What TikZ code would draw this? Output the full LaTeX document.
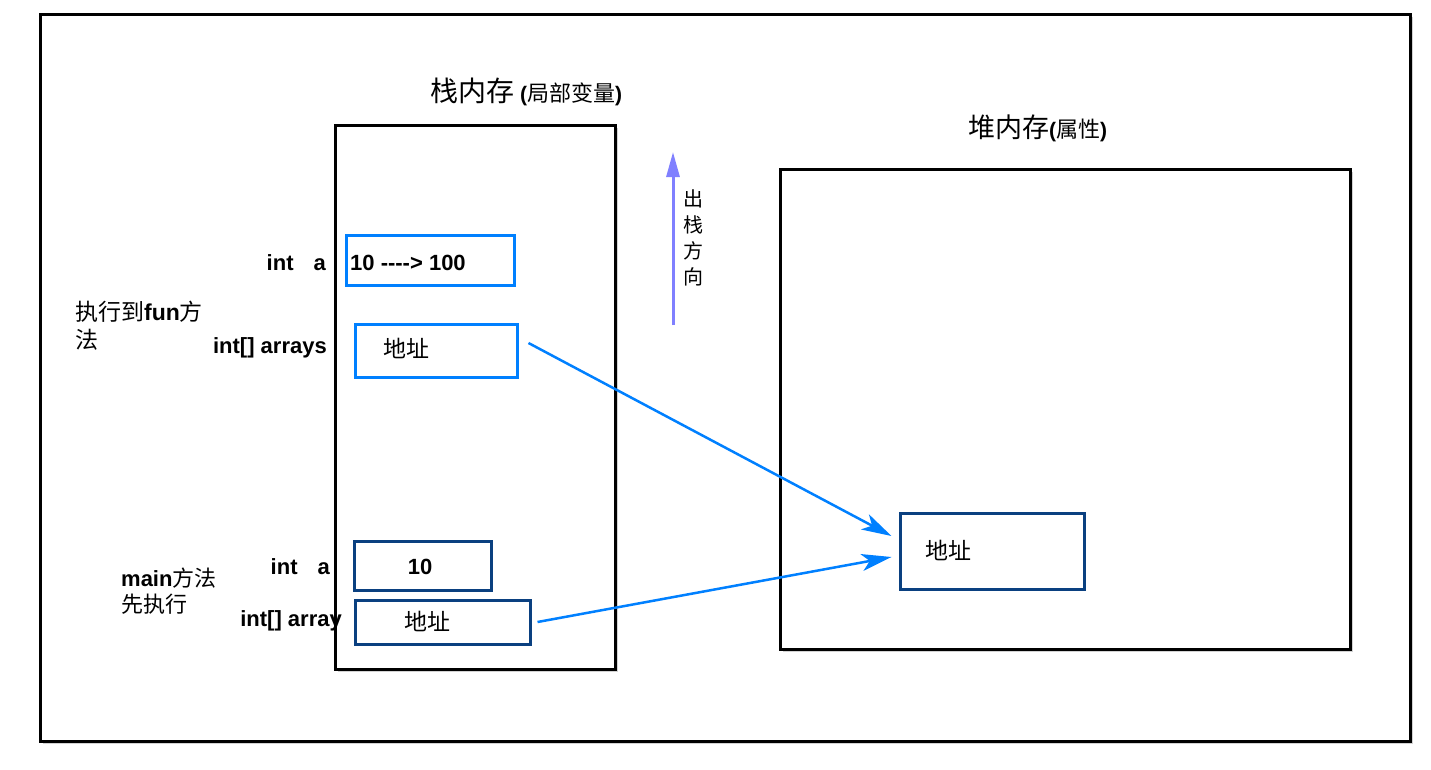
\documentclass[tikz,border=0pt]{standalone}
\usepackage{fontspec}
\setmainfont{Liberation Sans}
\newfontfamily\cjk{Noto Sans CJK SC}
\usetikzlibrary{shadows, arrows.meta}
\newcommand{\zh}[1]{{\cjk #1}}
\definecolor{slotlight}{RGB}{0,128,255}
\definecolor{slotdark}{RGB}{10,64,128}
\definecolor{popcol}{RGB}{128,128,255}

\begin{document}
\begin{tikzpicture}[x=1pt,y=-1pt]
\tikzset{
    memframe/.style={draw=black, fill=white, line width=3pt, inner sep=0pt,
        drop shadow={shadow xshift=3pt, shadow yshift=-3pt, opacity=0.35}},
    slot/.style={draw=#1, fill=white, line width=3pt, inner sep=0pt},
    lbl/.style={font=\bfseries\fontsize{22}{26}\selectfont, inner sep=0pt},
    zhtxt/.style={font=\fontsize{23}{28}\selectfont, inner sep=0pt, align=left},
    ptr/.style={draw=slotlight, line width=2.5pt, -{Stealth[length=30pt, width=17pt, inset=8pt]}}
}
  \useasboundingbox (0,0) rectangle (1431,769);
  \fill[white] (0,0) rectangle (1431,769);

  % frames
  \node[memframe, minimum width=1370, minimum height=727] (outer) at (725,377.5) {};
  \node[memframe, minimum width=280, minimum height=544] (stack) at (475,397) {};
  \node[memframe, minimum width=570, minimum height=480] (heap) at (1065,409) {};

  % titles
  \node[anchor=west, inner sep=0pt] (stacktitle) at (430,92)
    {\zh{\fontsize{28}{32}\selectfont 栈内存}\hspace{6pt}{\bfseries\fontsize{21}{24}\selectfont(}\zh{\fontsize{22}{26}\selectfont 局部变量}{\bfseries\fontsize{21}{24}\selectfont)}};
  \node[anchor=west, inner sep=0pt] (heaptitle) at (968,128)
    {\zh{\fontsize{27}{32}\selectfont 堆内存}{\bfseries\fontsize{21}{24}\selectfont(}\zh{\fontsize{22}{26}\selectfont 属性}{\bfseries\fontsize{21}{24}\selectfont)}};

  % fun frame
  \node[slot=slotlight, minimum width=168, minimum height=50] (funa) at (430,260) {};
  \node[lbl, anchor=west] (funaval) at (350,263) {10 -{}-{}-{}-{}> 100};
  \node[slot=slotlight, minimum width=162, minimum height=53] (funarr) at (436,350.5) {};
  \node[zhtxt, anchor=west] (funarrval) at (383,348) {\zh{地址}};
  \node[lbl, anchor=east] (funalbl) at (326,263) {int\hspace{20pt}a};
  \node[lbl, anchor=east] (funarrlbl) at (327,348) {int[] arrays};
  \node[zhtxt, anchor=west] (funnote) at (75,326) {\zh{执行到}{\bfseries fun}\zh{方}\\\zh{法}};

  % main frame
  \node[slot=slotdark, minimum width=137, minimum height=49] (maina) at (422.5,565.5) {};
  \node[lbl] (mainaval) at (420,567) {10};
  \node[slot=slotdark, minimum width=175, minimum height=44] (mainarr) at (442.5,622) {};
  \node[zhtxt, anchor=west] (mainarrval) at (404,621) {\zh{地址}};
  \node[lbl, anchor=east] (mainalbl) at (330,567) {int\hspace{20pt}a};
  \node[lbl, anchor=east] (mainarrlbl) at (342,621) {int[] array};
  \node[zhtxt, anchor=west, font=\fontsize{22}{26}\selectfont] (mainnote) at (121,591) {{\bfseries main}\zh{方法}\\\zh{先执行}};

  % heap object
  \node[slot=slotdark, minimum width=184, minimum height=76] (heapobj) at (992,551) {};
  \node[zhtxt, anchor=west] (heapobjval) at (925,550) {\zh{地址}};

  % pop direction
  \coordinate (popbot) at (673,325);
  \coordinate (poptop) at (673,152);
  \draw[popcol, line width=3pt, -{Triangle[length=25pt, width=13pt]}] (popbot) -- (poptop);
  \node[zhtxt, align=center, font=\fontsize{20}{26}\selectfont] (poplbl) at (693,238) {\zh{出}\\\zh{栈}\\\zh{方}\\\zh{向}};

  % references
  \draw[ptr] ([xshift=10pt, yshift=7.5pt]funarr.east) -- ([xshift=-7pt, yshift=15pt]heapobj.west);
  \draw[ptr] ([xshift=6pt]mainarr.east) -- ([xshift=-7pt, yshift=-6pt]heapobj.west);
\end{tikzpicture}
\end{document}
